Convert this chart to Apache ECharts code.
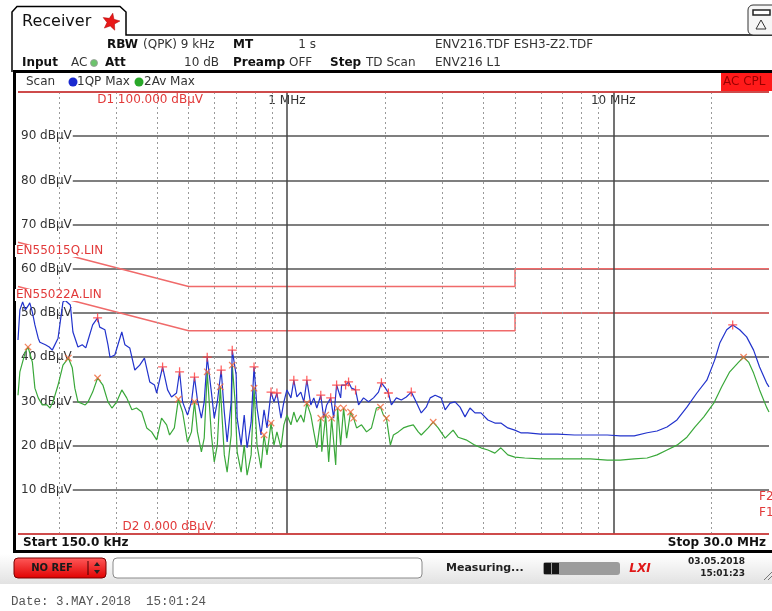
<!DOCTYPE html>
<html>
<head>
<meta charset="utf-8">
<title>Receiver scan</title>
<script src="https://cdn.jsdelivr.net/npm/echarts@6/dist/echarts.min.js"></script>
<style>
  html, body { margin: 0; padding: 0; background: #fff; }
  #chart { width: 772px; height: 611px; }
</style>
</head>
<body>
<div id="chart"></div>
<script>
// frequencies in MHz, levels in dBµV

// 1QP Max (blue)
const qpFreq = [0.150,0.152,0.155,0.158,0.161,0.163,0.166,0.169,0.173,0.175,0.182,0.187,0.191,0.199,0.206,0.209,0.217,0.221,0.229,0.236,
  0.242,0.246,0.254,0.263,0.267,0.277,0.283,0.287,0.297,0.312,0.319,0.330,0.342,0.354,0.366,0.380,0.393,0.399,0.416,0.431,
  0.443,0.459,0.469,0.479,0.496,0.510,0.521,0.532,0.547,0.558,0.570,0.587,0.599,0.612,0.629,0.643,0.656,0.675,0.680,0.699,
  0.704,0.724,0.740,0.755,0.777,0.793,0.810,0.833,0.851,0.869,0.894,0.913,0.932,0.959,0.979,1.000,1.029,1.050,1.073,1.103,
  1.127,1.151,1.184,1.209,1.235,1.270,1.297,1.324,1.362,1.391,1.420,1.461,1.471,1.513,1.545,1.578,1.623,1.658,1.717,1.778,
  1.842,1.908,1.948,2.004,2.046,2.090,2.165,2.242,2.322,2.405,2.473,2.580,2.672,2.748,2.846,2.969,3.054,3.162,3.275,3.392,
  3.513,3.639,3.769,3.931,4.129,4.337,4.524,4.752,4.991,5.206,5.468,5.992,6.749,7.605,8.511,9.588,10.50,11.59,12.70,13.62,
  14.61,15.67,16.81,18.03,19.35,20.46,21.20,22.26,23.22,24.39,25.62,26.91,28.07,29.48,30.0];
const qpLevel = [43.9,50.7,52.5,50.7,51.6,52.3,50.2,47.3,44.3,43.4,42.8,42.3,41.6,44.3,52.5,52.9,51.8,45.7,42.3,42.8,
  42.1,43.9,47.3,48.9,46.8,46.2,42.8,40.0,40.5,45.7,42.8,42.1,37.1,38.2,39.8,34.4,33.7,31.9,37.8,32.6,
  31.0,31.9,36.7,29.9,26.9,29.9,35.5,30.3,26.2,29.9,40.0,32.1,26.2,29.9,37.1,27.6,20.8,29.9,41.6,36.0,
  26.2,20.1,26.9,19.5,25.3,37.8,28.5,22.4,28.1,24.0,32.1,29.9,31.9,26.2,29.9,32.6,30.8,34.8,31.0,32.1,
  29.9,34.8,29.2,30.8,28.5,31.4,26.2,29.2,30.8,26.2,33.7,30.8,33.7,33.7,34.4,33.0,32.6,29.2,30.8,29.9,
  30.8,32.1,34.2,33.0,31.9,29.2,30.8,30.3,31.0,32.1,30.3,27.4,28.7,30.8,31.4,30.8,28.1,29.6,29.9,28.7,
  26.5,28.5,27.4,27.4,25.8,25.1,25.1,24.0,23.5,22.9,22.9,22.6,22.6,22.4,22.4,22.4,22.2,22.2,22.9,23.3,
  24.2,25.8,28.7,31.9,34.8,39.4,43.2,46.2,47.3,46.2,44.6,41.6,37.8,34.2,33.3];

// 2Av Max (green)
const avFreq = [0.150,0.152,0.158,0.161,0.166,0.169,0.173,0.178,0.184,0.188,0.192,0.199,0.206,0.214,0.220,0.224,0.229,0.241,0.246,0.254,
  0.263,0.273,0.283,0.291,0.301,0.312,0.323,0.335,0.346,0.359,0.372,0.385,0.399,0.413,0.428,0.437,0.452,0.465,0.479,0.496,
  0.510,0.521,0.532,0.547,0.558,0.570,0.587,0.599,0.612,0.625,0.643,0.656,0.675,0.680,0.694,0.704,0.724,0.740,0.755,0.777,
  0.793,0.810,0.833,0.851,0.869,0.894,0.913,0.932,0.959,0.979,1.000,1.029,1.050,1.073,1.103,1.127,1.151,1.184,1.209,1.235,
  1.270,1.279,1.315,1.343,1.371,1.411,1.430,1.461,1.492,1.524,1.567,1.601,1.635,1.693,1.754,1.816,1.881,1.935,1.976,2.018,
  2.075,2.120,2.195,2.274,2.355,2.439,2.526,2.580,2.710,2.807,2.907,3.054,3.230,3.345,3.538,3.769,3.931,4.129,4.337,4.524,
  4.752,4.991,5.354,5.992,6.749,7.605,8.511,9.588,10.50,11.59,12.70,13.62,14.61,15.67,16.81,17.78,18.94,20.32,21.49,22.74,
  24.22,25.08,25.98,26.91,28.07,29.48,30.0];
const avLevel = [31.4,36.7,41.2,42.3,38.9,33.0,30.8,29.2,29.2,28.5,29.9,33.7,38.2,39.8,37.6,33.0,29.9,29.2,29.9,32.1,
  35.3,33.7,29.9,28.5,29.9,32.6,30.8,28.1,28.5,27.6,24.0,23.1,21.3,26.2,24.7,22.4,24.0,30.5,27.6,20.8,
  23.1,29.9,23.1,18.6,21.7,36.7,22.4,16.3,20.1,33.3,17.9,14.0,22.4,38.2,29.9,18.6,14.0,20.1,13.3,17.9,
  33.0,20.1,14.9,22.4,17.9,25.1,20.1,23.1,19.5,24.7,26.9,24.7,27.6,25.3,26.9,25.3,29.6,26.9,23.1,19.5,
  26.2,18.6,26.9,16.3,26.2,15.6,28.5,20.1,28.5,21.7,27.6,26.2,24.0,24.7,23.1,24.0,28.5,28.7,26.9,26.2,
  20.1,22.4,23.1,24.0,24.4,24.7,23.1,22.4,24.0,25.3,24.0,21.7,23.5,21.9,21.3,20.1,19.5,19.0,18.3,19.5,
  17.9,17.4,17.2,17.0,17.0,17.0,17.0,16.7,16.7,17.0,17.2,17.9,19.0,20.1,21.9,24.2,26.5,29.6,33.3,36.7,
  38.9,40.0,38.9,36.4,32.6,28.7,27.6];

// peak markers
const qpPeakFreq = [0.263,0.416,0.469,0.521,0.570,0.629,0.680,0.793,0.894,0.932,1.050,1.151,1.270,1.362,1.420,1.513,1.545,1.623,1.948,2.046,2.405,23.22];
const qpPeakLevel = [48.9,37.8,36.7,35.5,40.0,37.1,41.6,37.8,32.1,31.9,34.8,34.8,31.4,30.8,33.7,33.7,34.4,32.6,34.2,31.9,32.1,47.3];
const avPeakFreq = [0.161,0.214,0.263,0.465,0.521,0.570,0.625,0.680,0.793,0.851,0.894,1.151,1.270,1.315,1.371,1.430,1.492,1.567,1.601,1.935,2.018,2.807,25.08];
const avPeakLevel = [42.3,39.8,35.3,30.5,29.9,36.7,33.3,38.2,33.0,22.4,25.1,29.6,26.2,26.9,26.2,28.5,28.5,27.6,26.2,28.7,26.2,25.3,40.0];

// limit lines EN55015 QP / EN55022 AV
const limitFreq = [0.15, 0.5, 5, 5, 30];
const limitQP = [66, 56, 56, 60, 60];
const limitAV = [56, 46, 46, 50, 50];

// grid
const minorGrid = [0.2,0.3,0.4,0.5,0.6,0.7,0.8,0.9,2,3,4,5,6,7,8,9,20];
const decadeGrid = [1, 10];
const displayLines = [100, 0];

const FONT = '"DejaVu Sans", Verdana, sans-serif';
const pairs = (f, v) => f.map((x, i) => [x, v[i]]);
const plusPath = 'path://M4.3,0H5.7V4.3H10V5.7H5.7V10H4.3V5.7H0V4.3H4.3Z';

function txt(x, y, text, opt) {
  opt = opt || {};
  return {
    type: 'text', x: x, y: y, z: 100, silent: true,
    style: {
      text: text,
      font: opt.font || ('12px ' + FONT),
      fill: opt.fill || '#111',
      textAlign: opt.align || 'left',
      textVerticalAlign: 'middle',
      backgroundColor: opt.bg,
      padding: opt.bg ? [0, 1] : 0
    }
  };
}

function starPoints(cx, cy, ro, ri) {
  const pts = [];
  for (let i = 0; i < 10; i++) {
    const r = i % 2 ? ri : ro;
    const a = -Math.PI / 2 + i * Math.PI / 5 + 0.2;
    pts.push([cx + r * Math.cos(a), cy + r * Math.sin(a)]);
  }
  return pts;
}

const chrome = [
  // tab + header
  { type: 'polyline', z: 100, silent: true,
    shape: { points: [[12, 72], [12, 12], [17, 6.5], [120, 6.5], [126, 12], [126, 35], [772, 35]] },
    style: { stroke: '#000', lineWidth: 1.5, fill: null } },
  txt(22, 22, 'Receiver', { font: '16px ' + FONT }),
  { type: 'polygon', z: 100, silent: true, shape: { points: starPoints(111, 22, 9, 4) },
    style: { fill: '#e81818', stroke: '#a00', lineWidth: 0.5 } },
  { type: 'rect', z: 100, silent: true, shape: { x: 748, y: 5, width: 30, height: 30, r: 5 },
    style: { fill: '#f6f6f6', stroke: '#333', lineWidth: 1 } },
  { type: 'rect', z: 101, silent: true, shape: { x: 753, y: 10, width: 17, height: 5 },
    style: { fill: '#fff', stroke: '#222', lineWidth: 1.5 } },
  { type: 'polygon', z: 101, silent: true, shape: { points: [[761, 20], [756, 29], [766, 29]] },
    style: { fill: null, stroke: '#333', lineWidth: 1 } },

  txt(107, 45, 'RBW', { font: 'bold 12px ' + FONT }),
  txt(143, 45, '(QPK) 9 kHz', { fill: '#333' }),
  txt(233, 45, 'MT', { font: 'bold 12px ' + FONT }),
  txt(316, 45, '1 s', { fill: '#333', align: 'right' }),
  txt(435, 45, 'ENV216.TDF ESH3-Z2.TDF', { fill: '#333' }),
  txt(22, 63, 'Input', { font: 'bold 12px ' + FONT }),
  txt(71, 63, 'AC', { fill: '#333' }),
  { type: 'circle', z: 100, silent: true, shape: { cx: 94, cy: 63, r: 3.5 },
    style: { fill: '#6cc46c', stroke: '#999', lineWidth: 0.8 } },
  txt(105, 63, 'Att', { font: 'bold 12px ' + FONT }),
  txt(219, 63, '10 dB', { fill: '#333', align: 'right' }),
  txt(233, 63, 'Preamp', { font: 'bold 12px ' + FONT }),
  txt(289, 63, 'OFF', { fill: '#333' }),
  txt(330, 63, 'Step', { font: 'bold 12px ' + FONT }),
  txt(366, 63, 'TD Scan', { fill: '#333' }),
  txt(435, 63, 'ENV216 L1', { fill: '#333' }),

  // panel frame
  { type: 'rect', z: 100, silent: true, shape: { x: 14.5, y: 71.5, width: 800, height: 480 },
    style: { fill: null, stroke: '#000', lineWidth: 3 } },
  txt(26, 82, 'Scan', { fill: '#333' }),
  { type: 'circle', z: 100, silent: true, shape: { cx: 73, cy: 82, r: 4.5 }, style: { fill: '#1a2ad0' } },
  txt(77, 82, '1QP Max', { fill: '#333' }),
  { type: 'circle', z: 100, silent: true, shape: { cx: 139, cy: 82, r: 4.5 }, style: { fill: '#2aa82a' } },
  txt(144, 82, '2Av Max', { fill: '#333' }),
  { type: 'rect', z: 100, silent: true, shape: { x: 721, y: 73, width: 60, height: 18 }, style: { fill: '#ff1a1a' } },
  txt(723, 82, 'AC CPL', { fill: '#9a0000' }),

  // plot annotations
  txt(203, 100, 'D1 100.000 dBµV', { fill: '#e23a3a', align: 'right' }),
  txt(213, 527, 'D2 0.000 dBµV', { fill: '#e23a3a', align: 'right' }),
  txt(15, 251, 'EN55015Q.LIN', { fill: '#e23a3a', bg: '#fff' }),
  txt(15, 295, 'EN55022A.LIN', { fill: '#e23a3a', bg: '#fff' }),
  txt(759, 497, 'F2', { fill: '#e23a3a' }),
  txt(759, 513, 'F1', { fill: '#e23a3a' }),
  txt(23, 543, 'Start 150.0 kHz', { font: 'bold 12px ' + FONT }),
  txt(766, 543, 'Stop 30.0 MHz', { font: 'bold 12px ' + FONT, align: 'right' }),

  // status bar
  { type: 'rect', z: 99, silent: true, shape: { x: 0, y: 554, width: 772, height: 30 },
    style: { fill: new echarts.graphic.LinearGradient(0, 0, 0, 1, [
      { offset: 0, color: '#ffffff' }, { offset: 1, color: '#e2e2e2' }]) } },
  { type: 'rect', z: 100, silent: true, shape: { x: 14, y: 558, width: 92, height: 20, r: 4 },
    style: { stroke: '#7a0000', lineWidth: 1, fill: new echarts.graphic.LinearGradient(0, 0, 0, 1, [
      { offset: 0, color: '#ff5a5a' }, { offset: 1, color: '#e00000' }]) } },
  txt(52, 568, 'NO REF', { font: 'bold 10px ' + FONT, fill: '#1a1a1a', align: 'center' }),
  { type: 'line', z: 101, silent: true, shape: { x1: 88, y1: 561, x2: 88, y2: 575 }, style: { stroke: '#400', lineWidth: 1 } },
  { type: 'polygon', z: 101, silent: true, shape: { points: [[97, 562], [94, 566], [100, 566]] }, style: { fill: '#222' } },
  { type: 'polygon', z: 101, silent: true, shape: { points: [[97, 574], [94, 570], [100, 570]] }, style: { fill: '#222' } },
  { type: 'rect', z: 100, silent: true, shape: { x: 113, y: 558, width: 309, height: 20, r: 4 },
    style: { fill: '#fff', stroke: '#8a8a8a', lineWidth: 1 } },
  txt(446, 568, 'Measuring...', { font: 'bold 11px ' + FONT, fill: '#222' }),
  { type: 'rect', z: 100, silent: true, shape: { x: 543, y: 562, width: 77, height: 13, r: 3 }, style: { fill: '#9c9c9c' } },
  { type: 'rect', z: 101, silent: true, shape: { x: 544, y: 563, width: 7, height: 11 }, style: { fill: '#151515' } },
  { type: 'rect', z: 101, silent: true, shape: { x: 552, y: 563, width: 7, height: 11 }, style: { fill: '#151515' } },
  txt(640, 569, 'LXI', { font: 'italic bold 12px ' + FONT, fill: '#e01818', align: 'center' }),
  txt(745, 562, '03.05.2018', { font: 'bold 9px ' + FONT, fill: '#222', align: 'right' }),
  txt(745, 574, '15:01:23', { font: 'bold 9px ' + FONT, fill: '#222', align: 'right' }),
  { type: 'line', z: 100, silent: true, shape: { x1: 764, y1: 580, x2: 772, y2: 572 }, style: { stroke: '#777', lineWidth: 1 } },
  { type: 'line', z: 100, silent: true, shape: { x1: 768, y1: 580, x2: 772, y2: 576 }, style: { stroke: '#777', lineWidth: 1 } },

  txt(11, 602, 'Date: 3.MAY.2018  15:01:24', { font: '12.5px "Liberation Mono", monospace', fill: '#555' })
];

const chart = echarts.init(document.getElementById('chart'), null, { renderer: 'canvas' });

const option = {
  animation: false,
  backgroundColor: '#fff',
  textStyle: { fontFamily: FONT },
  grid: { left: 18, top: 92, right: -1, bottom: 77, containLabel: false },
  xAxis: {
    type: 'log', logBase: 10, min: 0.15, max: 30, position: 'top',
    axisLine: { show: false }, axisTick: { show: false }, splitLine: { show: false },
    axisLabel: {
      inside: true, margin: 3, color: '#333', fontSize: 12, fontFamily: FONT,
      verticalAlign: 'top',
      formatter: v => (Math.abs(v - 1) < 1e-6 || Math.abs(v - 10) < 1e-6) ? Math.round(v) + ' MHz' : ''
    }
  },
  yAxis: {
    type: 'value', min: 0, max: 100, interval: 10, z: 3,
    axisLine: { show: false }, axisTick: { show: false },
    axisLabel: {
      inside: true, margin: 0, color: '#333', fontSize: 12, fontFamily: FONT,
      backgroundColor: '#fff', padding: [0, 1, 0, 3],
      formatter: v => (v === 0 || v === 100) ? '' : v + ' dBµV'
    },
    splitLine: { lineStyle: { color: '#555', width: 1.5 } }
  },
  series: [
    {
      name: 'grid', type: 'line', data: [], z: 1, silent: true,
      markLine: {
        silent: true, symbol: 'none', animation: false, label: { show: false },
        data: minorGrid.map(f => ({ xAxis: f, lineStyle: { color: '#9a9a9a', type: [2, 3], width: 1 } }))
          .concat(decadeGrid.map(f => ({ xAxis: f, lineStyle: { color: '#444', type: 'solid', width: 1.5 } })))
      }
    },
    {
      name: 'EN55015Q.LIN', type: 'line', data: pairs(limitFreq, limitQP), z: 4,
      symbol: 'none', lineStyle: { color: '#f06a6a', width: 1.5 }
    },
    {
      name: 'EN55022A.LIN', type: 'line', data: pairs(limitFreq, limitAV), z: 4,
      symbol: 'none', lineStyle: { color: '#f06a6a', width: 1.5 }
    },
    {
      name: '2Av Max', type: 'line', data: pairs(avFreq, avLevel), z: 5,
      symbol: 'none', lineStyle: { color: '#3aa83a', width: 1.2 }
    },
    {
      name: '1QP Max', type: 'line', data: pairs(qpFreq, qpLevel), z: 6,
      symbol: 'none', lineStyle: { color: '#2233cc', width: 1.2 }
    },
    {
      name: 'QP peaks', type: 'scatter', data: pairs(qpPeakFreq, qpPeakLevel), z: 7,
      symbol: plusPath, symbolSize: 9, itemStyle: { color: '#ff3a3a' }
    },
    {
      name: 'AV peaks', type: 'scatter', data: pairs(avPeakFreq, avPeakLevel), z: 7,
      symbol: plusPath, symbolSize: 9, symbolRotate: 45, itemStyle: { color: '#f0663a' }
    },
    {
      name: 'display lines', type: 'line', data: [], z: 8, silent: true,
      markLine: {
        silent: true, symbol: 'none', animation: false, label: { show: false },
        lineStyle: { color: '#e83a3a', type: 'solid', width: 1.5 },
        data: displayLines.map(v => ({ yAxis: v }))
      }
    }
  ],
  graphic: chrome
};

chart.setOption(option);
</script>
</body>
</html>
